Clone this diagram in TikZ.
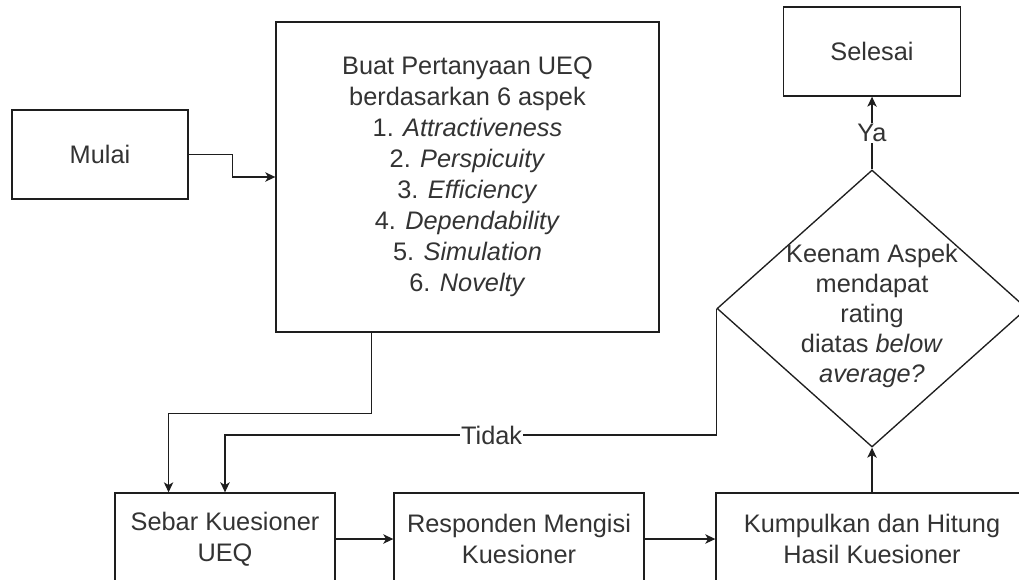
\documentclass[tikz,border=0pt]{standalone}
\usepackage{fontspec}
\setmainfont{Liberation Sans}
\usetikzlibrary{shapes.geometric,arrows.meta,calc}
\definecolor{ink}{RGB}{51,51,51}
\definecolor{edge}{RGB}{30,30,30}
\begin{document}
\begin{tikzpicture}[x=0.75pt,y=-0.75pt,
  every node/.style={font=\fontsize{19}{23.3}\selectfont, text=ink},
  box/.style={draw=edge, line width=1pt, rectangle, align=center, inner sep=0pt},
  conn/.style={draw=edge, line width=1pt, -{Stealth[length=7.5pt,width=7pt,inset=2pt]}},
  lbl/.style={fill=white, inner sep=1pt}]
\useasboundingbox (0,0) rectangle (1019,579);
\fill[white] (0,0) rectangle (1019,579);
\clip (0,0) rectangle (1019,579);

% process boxes
\node[box, minimum width=132pt, minimum height=66.75pt] (mulai) at (100,154.5) {Mulai};
\node[box, minimum width=287.25pt, minimum height=232.5pt] (uq) at (467.5,177)
  {Buat Pertanyaan UEQ\\berdasarkan 6 aspek\\1. \textit{Attractiveness}\\2. \textit{Perspicuity}\\3. \textit{Efficiency}\\4. \textit{Dependability}\\5. \textit{Simulation}\\6. \textit{Novelty}};
\node[box, minimum width=132.75pt, minimum height=66.75pt] (selesai) at (872,51.5) {Selesai};
\node[box, minimum width=165pt, minimum height=69pt] (sebar) at (225,539) {Sebar Kuesioner\\UEQ};
\node[box, minimum width=187.5pt, minimum height=69pt] (resp) at (519,539) {Responden Mengisi\\Kuesioner};
\node[box, minimum width=234pt, minimum height=69pt] (kump) at (872,539) {Kumpulkan dan Hitung\\Hasil Kuesioner};

% decision
\node[diamond, draw=edge, line width=1pt, minimum width=232.5pt, minimum height=207.75pt, inner sep=0pt] (dec) at (872,308.5) {};
\node[align=center, font=\fontsize{19}{22.5}\selectfont] (dectext) at ($(dec.center)+(0,7)$)
  {Keenam Aspek\\mendapat\\rating\\diatas \textit{below}\\\textit{average?}};

% connectors
\draw[conn] (mulai.east) -- ++(44,0) |- (uq.west);
\draw[conn] ($(uq.south west)!0.25!(uq.south east)$) -- ++(0,81)
  -| ($(sebar.north west)!0.245!(sebar.north east)$);
\draw[conn] (dec.west) -- ++(0,126.5) -| node[lbl, pos=0.2287] {Tidak} (sebar.north);
\draw[conn] (sebar.east) -- (resp.west);
\draw[conn] (resp.east) -- (kump.west);
\draw[conn] (kump.north) -- (dec.south);
\draw[conn] (dec.north) -- node[lbl] {Ya} (selesai.south);
\end{tikzpicture}
\end{document}
